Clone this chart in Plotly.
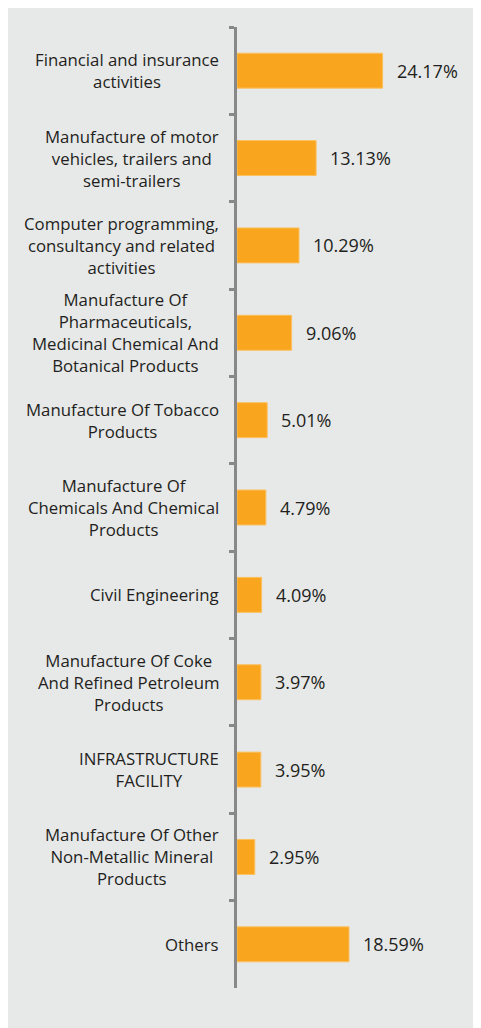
import plotly.graph_objects as go

categories = [
    "Financial and insurance<br>activities",
    "Manufacture of motor<br>vehicles, trailers and<br>semi-trailers",
    "Computer programming,<br>consultancy and related<br>activities",
    "Manufacture Of<br>Pharmaceuticals,<br>Medicinal Chemical And<br>Botanical Products",
    "Manufacture Of Tobacco<br>Products",
    "Manufacture Of<br>Chemicals And Chemical<br>Products",
    "Civil Engineering",
    "Manufacture Of Coke<br>And Refined Petroleum<br>Products",
    "INFRASTRUCTURE<br>FACILITY",
    "Manufacture Of Other<br>Non-Metallic Mineral<br>Products",
    "Others",
]
shares = [24.17, 13.13, 10.29, 9.06, 5.01, 4.79, 4.09, 3.97, 3.95, 2.95, 18.59]

font_family = "Open Sans, sans-serif"
text_color = "#231f20"
bar_color = "#f9a61e"
axis_color = "#888888"

fig = go.Figure()

fig.add_trace(go.Bar(
    x=shares, y=categories,
    orientation='h',
    width=0.4,
    marker=dict(color=bar_color, line=dict(color="#fbc060", width=1)),
    hoverinfo='skip'
))

# category labels, centred lines, right edge left of the axis
for cat in categories:
    fig.add_annotation(
        x=0, y=cat, xref='x', yref='y',
        text=cat, showarrow=False,
        xanchor='right', align='center', xshift=-16,
        font=dict(family=font_family, size=16.8, color=text_color)
    )

# value labels
for cat, val in zip(categories, shares):
    fig.add_annotation(
        x=val, y=cat, xref='x', yref='y',
        text=f"{val:.2f}%", showarrow=False,
        xanchor='left', xshift=12,
        font=dict(family=font_family, size=18, color=text_color)
    )

# grey panel behind the chart
fig.add_shape(
    type='rect', xref='paper', yref='paper',
    x0=-0.96, x1=1.0, y0=-0.05, y1=1.03,
    fillcolor="#e7e8e8", line=dict(width=0), layer='below'
)

fig.update_xaxes(
    range=[0, 40], visible=False
)
fig.update_yaxes(
    type='category', categoryorder='array', categoryarray=categories,
    autorange='reversed',
    showticklabels=False,
    showline=True, linecolor=axis_color, linewidth=2.5,
    ticks='outside', tickson='boundaries', ticklen=5, tickcolor=axis_color, tickwidth=2.5,
    showgrid=False, zeroline=False
)

# the page body adds an 8px margin, so the figure is 8px smaller
fig.update_layout(
    width=473, height=1020,
    margin=dict(l=229, r=3, t=19, b=40),
    paper_bgcolor='white', plot_bgcolor='rgba(0,0,0,0)',
    showlegend=False,
    bargap=0.6
)

fig.write_html("out.html")
